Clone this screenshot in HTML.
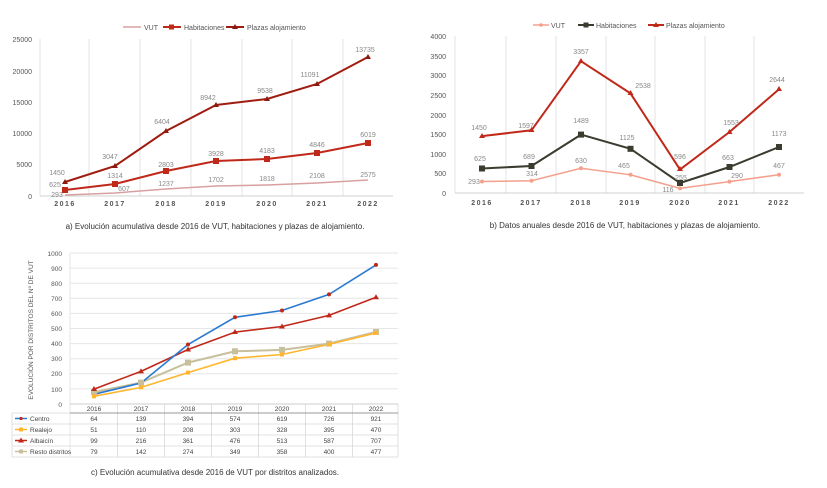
<!DOCTYPE html>
<html><head><meta charset="utf-8"><style>
html,body{margin:0;padding:0;background:#fff}
svg{display:block;font-family:"Liberation Sans",sans-serif}
</style></head><body>
<svg width="827" height="488" viewBox="0 0 827 488" xmlns="http://www.w3.org/2000/svg">
<rect width="827" height="488" fill="#fff"/>
<!-- ===== Chart a ===== -->
<g stroke="#e3e3e3" stroke-width="1">
<line x1="89" y1="39" x2="89" y2="196"/><line x1="140" y1="39" x2="140" y2="196"/><line x1="191" y1="39" x2="191" y2="196"/><line x1="242" y1="39" x2="242" y2="196"/><line x1="292" y1="39" x2="292" y2="196"/><line x1="343" y1="39" x2="343" y2="196"/><line x1="40" y1="39" x2="40" y2="196"/>
</g>
<line x1="40" y1="196" x2="393" y2="196" stroke="#d0d0d0"/>
<g font-size="7" fill="#555" text-anchor="end">
<text x="32" y="42">25000</text><text x="32" y="74">20000</text><text x="32" y="105">15000</text><text x="32" y="136">10000</text><text x="32" y="167">5000</text><text x="32" y="199">0</text>
</g>
<g font-size="7" fill="#555" text-anchor="middle" letter-spacing="1.5" font-weight="bold">
<text x="65" y="206">2016</text><text x="115" y="206">2017</text><text x="166" y="206">2018</text><text x="216" y="206">2019</text><text x="267" y="206">2020</text><text x="317" y="206">2021</text><text x="368" y="206">2022</text>
</g>
<polyline points="65,195 115,193 166,189 216,186 267,185 317,183 368,180" fill="none" stroke="#d9a0a0" stroke-width="1.5"/>
<polyline points="65,190 115,184 166,171 216,161 267,159 317,153 368,143" fill="none" stroke="#c0281a" stroke-width="2"/>
<polyline points="65,182 115,166 166,131 216,105 267,99 317,84 368,57" fill="none" stroke="#a01c10" stroke-width="2"/>
<g fill="#c0281a"><rect x="62" y="187" width="6" height="6"/><rect x="112" y="181" width="6" height="6"/><rect x="163" y="168" width="6" height="6"/><rect x="213" y="158" width="6" height="6"/><rect x="264" y="156" width="6" height="6"/><rect x="314" y="150" width="6" height="6"/><rect x="365" y="140" width="6" height="6"/></g>
<g fill="#8a1a10"><path d="M65,179l3,5h-6z"/><path d="M115,163l3,5h-6z"/><path d="M166,128l3,5h-6z"/><path d="M216,102l3,5h-6z"/><path d="M267,96l3,5h-6z"/><path d="M317,81l3,5h-6z"/><path d="M368,54l3,5h-6z"/></g>
<g font-size="7" fill="#888" text-anchor="middle">
<text x="57" y="175">1450</text><text x="110" y="159">3047</text><text x="162" y="124">6404</text><text x="208" y="100">8942</text><text x="265" y="93">9538</text><text x="310" y="77">11091</text><text x="365" y="52">13735</text>
<text x="55" y="187">625</text><text x="115" y="178">1314</text><text x="166" y="167">2803</text><text x="216" y="156">3928</text><text x="267" y="153">4183</text><text x="317" y="147">4846</text><text x="368" y="137">6019</text>
<text x="57" y="197">293</text><text x="124" y="191">607</text><text x="166" y="186">1237</text><text x="216" y="182">1702</text><text x="267" y="181">1818</text><text x="317" y="178">2108</text><text x="368" y="177">2575</text>
</g>
<g font-size="7" fill="#555">
<line x1="123" y1="27" x2="141" y2="27" stroke="#d9a0a0" stroke-width="1.5"/><text x="144" y="30">VUT</text>
<line x1="163" y1="27" x2="181" y2="27" stroke="#c0281a" stroke-width="2"/><rect x="169" y="24.5" width="5" height="5" fill="#c0281a"/><text x="184" y="30">Habitaciones</text>
<line x1="226" y1="27" x2="244" y2="27" stroke="#a01c10" stroke-width="2"/><path d="M235,24l3,5h-6z" fill="#8a1a10"/><text x="247" y="30">Plazas alojamiento</text>
</g>
<text x="215" y="229" font-size="8" fill="#333" text-anchor="middle">a) Evolución acumulativa desde 2016 de VUT, habitaciones y plazas de alojamiento.</text>

<!-- ===== Chart b ===== -->
<g stroke="#e3e3e3" stroke-width="1">
<line x1="506" y1="36" x2="506" y2="193"/><line x1="556" y1="36" x2="556" y2="193"/><line x1="606" y1="36" x2="606" y2="193"/><line x1="655" y1="36" x2="655" y2="193"/><line x1="705" y1="36" x2="705" y2="193"/><line x1="754" y1="36" x2="754" y2="193"/><line x1="455" y1="36" x2="455" y2="193"/>
</g>
<line x1="455" y1="193" x2="804" y2="193" stroke="#d0d0d0"/>
<g font-size="7" fill="#555" text-anchor="end">
<text x="446" y="39">4000</text><text x="446" y="59">3500</text><text x="446" y="78">3000</text><text x="446" y="98">2500</text><text x="446" y="118">2000</text><text x="446" y="137">1500</text><text x="446" y="157">1000</text><text x="446" y="176">500</text><text x="446" y="196">0</text>
</g>
<g font-size="7" fill="#555" text-anchor="middle" letter-spacing="1.5" font-weight="bold">
<text x="482" y="205">2016</text><text x="531" y="205">2017</text><text x="581" y="205">2018</text><text x="630" y="205">2019</text><text x="680" y="205">2020</text><text x="729" y="205">2021</text><text x="779" y="205">2022</text>
</g>
<polyline points="482,181.5 531.5,180.7 581,168.3 630.5,174.8 680,188.4 729.5,181.6 779,174.7" fill="none" stroke="#f4a08c" stroke-width="1.5"/>
<polyline points="482,168.5 531.5,166 581,134.6 630.5,148.8 680,183 729.5,167 779,147" fill="none" stroke="#3b3b2f" stroke-width="2"/>
<polyline points="482,136.1 531.5,130.3 581,61.2 630.5,93.4 680,169.6 729.5,132 779,89.2" fill="none" stroke="#c0281a" stroke-width="2"/>
<g fill="#f4a08c"><circle cx="482" cy="181.5" r="2"/><circle cx="531.5" cy="180.7" r="2"/><circle cx="581" cy="168.3" r="2"/><circle cx="630.5" cy="174.8" r="2"/><circle cx="680" cy="188.4" r="2"/><circle cx="729.5" cy="181.6" r="2"/><circle cx="779" cy="174.7" r="2"/></g>
<g fill="#3b3b2f"><rect x="479" y="165.5" width="6" height="6"/><rect x="528.5" y="163" width="6" height="6"/><rect x="578" y="131.6" width="6" height="6"/><rect x="627.5" y="145.8" width="6" height="6"/><rect x="677" y="180" width="6" height="6"/><rect x="726.5" y="164" width="6" height="6"/><rect x="776" y="144" width="6" height="6"/></g>
<g fill="#c0281a"><path d="M482,133l3,5h-6z"/><path d="M531.5,127l3,5h-6z"/><path d="M581,58l3,5h-6z"/><path d="M630.5,90l3,5h-6z"/><path d="M680,166l3,5h-6z"/><path d="M729.5,129l3,5h-6z"/><path d="M779,86l3,5h-6z"/></g>
<g font-size="7" fill="#888" text-anchor="middle">
<text x="479" y="130">1450</text><text x="526" y="128">1597</text><text x="581" y="54">3357</text><text x="643" y="88">2538</text><text x="680" y="159">596</text><text x="731" y="125">1553</text><text x="777" y="82">2644</text>
<text x="480" y="161">625</text><text x="529" y="159">689</text><text x="581" y="123">1489</text><text x="627" y="140">1125</text><text x="681" y="180">255</text><text x="728" y="160">663</text><text x="779" y="136">1173</text>
<text x="474" y="184">293</text><text x="532" y="176">314</text><text x="581" y="163">630</text><text x="624" y="168">465</text><text x="668" y="192">116</text><text x="737" y="178">290</text><text x="779" y="168">467</text>
</g>
<g font-size="7" fill="#555">
<line x1="533" y1="25" x2="549" y2="25" stroke="#f4a08c" stroke-width="1.5"/><circle cx="541" cy="25" r="1.8" fill="#f4a08c"/><text x="551" y="28">VUT</text>
<line x1="578" y1="25" x2="594" y2="25" stroke="#3b3b2f" stroke-width="2"/><rect x="583.5" y="22.5" width="5" height="5" fill="#3b3b2f"/><text x="596" y="28">Habitaciones</text>
<line x1="648" y1="25" x2="664" y2="25" stroke="#c0281a" stroke-width="2"/><path d="M656,22l3,5h-6z" fill="#c0281a"/><text x="666" y="28">Plazas alojamiento</text>
</g>
<text x="625" y="228" font-size="8" fill="#333" text-anchor="middle">b) Datos anuales desde 2016 de VUT, habitaciones y plazas de alojamiento.</text>

<!-- ===== Chart c ===== -->
<g stroke="#e6e6e6" stroke-width="1">
<line x1="70" y1="253" x2="398" y2="253"/><line x1="70" y1="268.1" x2="398" y2="268.1"/><line x1="70" y1="283.2" x2="398" y2="283.2"/><line x1="70" y1="298.3" x2="398" y2="298.3"/><line x1="70" y1="313.4" x2="398" y2="313.4"/><line x1="70" y1="328.5" x2="398" y2="328.5"/><line x1="70" y1="343.6" x2="398" y2="343.6"/><line x1="70" y1="358.7" x2="398" y2="358.7"/><line x1="70" y1="373.8" x2="398" y2="373.8"/><line x1="70" y1="388.9" x2="398" y2="388.9"/>
<line x1="70" y1="253" x2="70" y2="457"/>
</g>
<line x1="70" y1="404" x2="398" y2="404" stroke="#ccc"/>
<g font-size="6.5" fill="#555" text-anchor="end">
<text x="62" y="256">1000</text><text x="62" y="271">900</text><text x="62" y="286">800</text><text x="62" y="301">700</text><text x="62" y="316">600</text><text x="62" y="331">500</text><text x="62" y="346">400</text><text x="62" y="361">300</text><text x="62" y="376">200</text><text x="62" y="392">100</text><text x="62" y="407">0</text>
</g>
<text transform="translate(33,330) rotate(-90)" font-size="6.5" fill="#555" text-anchor="middle">EVOLUCIÓN POR DISTRITOS DEL  Nº DE VUT</text>
<polyline points="94,392.1 141,382.6 188,362.6 235,351.3 282,349.9 329,343.6 376,332" fill="none" stroke="#c8bf9c" stroke-width="2"/>
<polyline points="94,396.3 141,387.4 188,372.6 235,358.2 282,354.5 329,344.4 376,333" fill="none" stroke="#ffb62e" stroke-width="1.6"/>
<polyline points="94,389.1 141,371.4 188,349.5 235,332.1 282,326.5 329,315.4 376,297.2" fill="none" stroke="#c0281a" stroke-width="1.6"/>
<polyline points="94,394.3 141,383 188,344.5 235,317.3 282,310.5 329,294.4 376,264.9" fill="none" stroke="#2a7ad0" stroke-width="1.6"/>
<g fill="#c8bf9c"><rect x="91" y="389" width="6" height="6"/><rect x="138" y="379.6" width="6" height="6"/><rect x="185" y="359.6" width="6" height="6"/><rect x="232" y="348.3" width="6" height="6"/><rect x="279" y="346.9" width="6" height="6"/><rect x="326" y="340.6" width="6" height="6"/><rect x="373" y="329" width="6" height="6"/></g>
<g fill="#ffb62e"><rect x="92" y="394.3" width="4" height="4"/><rect x="139" y="385.4" width="4" height="4"/><rect x="186" y="370.6" width="4" height="4"/><rect x="233" y="356.2" width="4" height="4"/><rect x="280" y="352.5" width="4" height="4"/><rect x="327" y="342.4" width="4" height="4"/><rect x="374" y="331" width="4" height="4"/></g>
<g fill="#c0281a"><path d="M94,386l3,5h-6z"/><path d="M141,368.4l3,5h-6z"/><path d="M188,346.5l3,5h-6z"/><path d="M235,329l3,5h-6z"/><path d="M282,323.5l3,5h-6z"/><path d="M329,312.4l3,5h-6z"/><path d="M376,294.2l3,5h-6z"/></g>
<g fill="#c0281a"><circle cx="188" cy="344.5" r="2"/><circle cx="235" cy="317.3" r="2"/><circle cx="282" cy="310.5" r="2"/><circle cx="329" cy="294.4" r="2"/><circle cx="376" cy="264.9" r="2"/></g>
<!-- table -->
<g stroke="#d8d8d8" stroke-width="0.8">
<line x1="12" y1="413" x2="398" y2="413"/><line x1="12" y1="424" x2="398" y2="424"/><line x1="12" y1="435" x2="398" y2="435"/><line x1="12" y1="446" x2="398" y2="446"/><line x1="12" y1="457" x2="398" y2="457"/>
<line x1="12" y1="413" x2="12" y2="457"/><line x1="117.5" y1="404" x2="117.5" y2="457"/><line x1="164.5" y1="404" x2="164.5" y2="457"/><line x1="211.5" y1="404" x2="211.5" y2="457"/><line x1="258.5" y1="404" x2="258.5" y2="457"/><line x1="305.5" y1="404" x2="305.5" y2="457"/><line x1="352.5" y1="404" x2="352.5" y2="457"/><line x1="398" y1="404" x2="398" y2="457"/>
</g>
<line x1="70" y1="413" x2="398" y2="413" stroke="#999"/>
<g font-size="6.5" fill="#444" text-anchor="middle">
<text x="94" y="411">2016</text><text x="141" y="411">2017</text><text x="188" y="411">2018</text><text x="235" y="411">2019</text><text x="282" y="411">2020</text><text x="329" y="411">2021</text><text x="376" y="411">2022</text>
<text x="94" y="421">64</text><text x="141" y="421">139</text><text x="188" y="421">394</text><text x="235" y="421">574</text><text x="282" y="421">619</text><text x="329" y="421">726</text><text x="376" y="421">921</text>
<text x="94" y="432">51</text><text x="141" y="432">110</text><text x="188" y="432">208</text><text x="235" y="432">303</text><text x="282" y="432">328</text><text x="329" y="432">395</text><text x="376" y="432">470</text>
<text x="94" y="443">99</text><text x="141" y="443">216</text><text x="188" y="443">361</text><text x="235" y="443">476</text><text x="282" y="443">513</text><text x="329" y="443">587</text><text x="376" y="443">707</text>
<text x="94" y="454">79</text><text x="141" y="454">142</text><text x="188" y="454">274</text><text x="235" y="454">349</text><text x="282" y="454">358</text><text x="329" y="454">400</text><text x="376" y="454">477</text>
</g>
<g font-size="6.5" fill="#444">
<line x1="15" y1="418.5" x2="27" y2="418.5" stroke="#2a7ad0" stroke-width="1.5"/><circle cx="21" cy="418.5" r="1.6" fill="#c0281a"/><text x="30" y="421">Centro</text>
<line x1="15" y1="429.5" x2="27" y2="429.5" stroke="#ffb62e" stroke-width="1.5"/><rect x="19" y="427.5" width="4" height="4" fill="#ffb62e"/><text x="30" y="432">Realejo</text>
<line x1="15" y1="440.5" x2="27" y2="440.5" stroke="#c0281a" stroke-width="1.5"/><path d="M21,437.5l3,5h-6z" fill="#c0281a"/><text x="30" y="443">Albaicín</text>
<line x1="15" y1="451.5" x2="27" y2="451.5" stroke="#c8bf9c" stroke-width="1.5"/><rect x="19" y="449.5" width="4" height="4" fill="#c8bf9c"/><text x="30" y="454">Resto distritos</text>
</g>
<text x="215" y="475" font-size="8" fill="#333" text-anchor="middle">c) Evolución acumulativa desde 2016 de VUT por distritos analizados.</text>
</svg>
</body></html>
